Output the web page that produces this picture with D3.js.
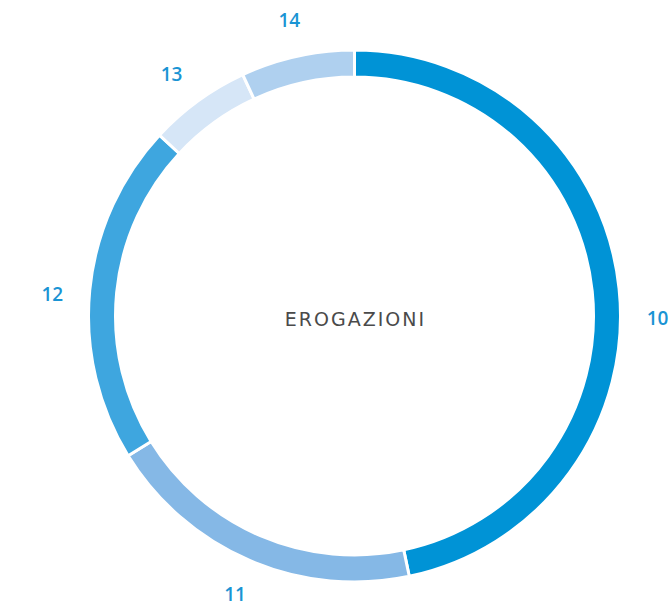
<!DOCTYPE html>
<html>
  <head>
    <meta charset="utf-8" />
    <title>erogazioni</title>
    <script src="https://cdn.jsdelivr.net/npm/d3@7/dist/d3.min.js"></script>
    <style>
      html, body {
        margin: 0;
        padding: 0;
        background: #fff;
      }
      svg {
        display: block;
      }
      text.lbl {
        font-family: "Open Sans", sans-serif;
        font-weight: 600;
        font-size: 19px;
        fill: #1a94d4;
        text-anchor: middle;
      }
      text.title {
        font-family: "DejaVu Sans", sans-serif;
        font-weight: 400;
        font-size: 19px;
        letter-spacing: 2px;
        fill: #4a4a4a;
        text-anchor: middle;
      }
    </style>
  </head>
<body>
<svg id="chart"></svg>
<script>

// data
let categories = ["10", "11", "12", "13", "14"];
let values = [46.7, 19.5, 20.7, 6.2, 6.9];
let colors = ["#0093d6", "#85b8e6", "#3ea6df", "#d6e6f7", "#afd0ef"];
let centerLabel = "EROGAZIONI";

let width = 671, height = 608;
let cx = 354.5, cy = 316;
let outer = 266, inner = 239, labelR = 303;

let svg = d3.select('#chart')
  .attr('width', width)
  .attr('height', height);

let slices = categories.map((c, i) => ({cat: c, value: values[i], color: colors[i]}));

let pie = d3.pie().sort(null).value(d => d.value);
let arc = d3.arc().innerRadius(inner).outerRadius(outer);
let arcs = pie(slices);

let g = svg.append('g')
  .attr('transform', "translate(" + cx + "," + cy + ")");

g.selectAll('path')
  .data(arcs)
  .enter()
  .append('path')
  .attr('d', arc)
  .attr('fill', d => d.data.color)
  .attr('stroke', '#fff')
  .attr('stroke-width', 3);

// the first label sits a little lower than its mid angle in the original
let labelShift = [0.11, 0, -0.025, -0.02, 0];

g.selectAll('text.lbl')
  .data(arcs)
  .enter()
  .append('text')
  .attr('class', 'lbl')
  .attr('x', (d, i) => labelR * Math.sin((d.startAngle + d.endAngle) / 2 + labelShift[i]))
  .attr('y', (d, i) => -labelR * Math.cos((d.startAngle + d.endAngle) / 2 + labelShift[i]))
  .attr('dy', '0.35em')
  .text(d => d.data.cat);

g.append('text')
  .attr('class', 'title')
  .attr('x', 1)
  .attr('y', 3)
  .attr('dy', '0.35em')
  .text(centerLabel);

</script>
</body>
</html>
